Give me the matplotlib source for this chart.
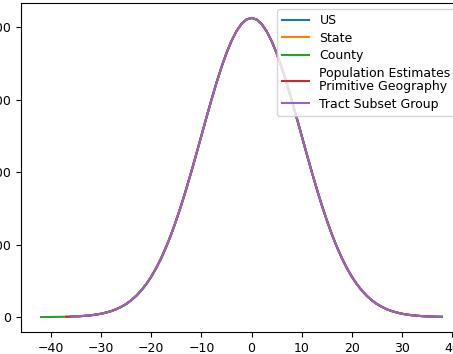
import matplotlib
matplotlib.use("Agg")
import matplotlib.pyplot as plt
import numpy as np

plt.rcParams["font.size"] = 9

# counts per offset, offsets -42 .. 38
offsets = np.arange(-42, 39)
counts = [0.0, 0.1, 0.1, 0.2, 0.3, 0.4, 0.6, 0.9, 1.3, 1.8, 2.5, 3.4, 4.6,
          6.2, 8.2, 10.8, 14.1, 18.1, 23.2, 29.3, 36.7, 45.5, 55.9, 67.9,
          81.7, 97.4, 114.8, 134.1, 155.0, 177.4, 201.0, 225.5, 250.5,
          275.5, 299.9, 323.3, 345.0, 364.5, 381.2, 394.8, 404.8, 410.9,
          413.0,
          410.9, 404.8, 394.8, 381.2, 364.5, 345.0, 323.3, 299.9, 275.5,
          250.5, 225.5, 201.0, 177.4, 155.0, 134.1, 114.8, 97.4, 81.7, 67.9,
          55.9, 45.5, 36.7, 29.3, 23.2, 18.1, 14.1, 10.8, 8.2, 6.2, 4.6, 3.4,
          2.5, 1.8, 1.3, 0.9, 0.6, 0.4, 0.3]
counts = np.array(counts)

# first offset covered by each geography level
levels = ["US", "State", "County",
          "Population Estimates\nPrimitive Geography", "Tract Subset Group"]
starts = [-36, -36, -42, -37, -36]

fig = plt.figure(figsize=(4.53, 3.54), dpi=100)
ax = fig.add_axes([21 / 453, 22 / 354, 441 / 453, 329 / 354])

for name, s in zip(levels, starts):
    m = offsets >= s
    ax.plot(offsets[m], counts[m], label=name)

ax.set_xticks([-40, -30, -20, -10, 0, 10, 20, 30, 40])
ax.set_yticks([0, 100, 200, 300, 400])
leg = ax.legend(loc="upper right", handlelength=2.2, labelspacing=0.36)
for t in leg.get_texts():
    t.set_linespacing(1.05)

fig.savefig("out.png", dpi=100)
